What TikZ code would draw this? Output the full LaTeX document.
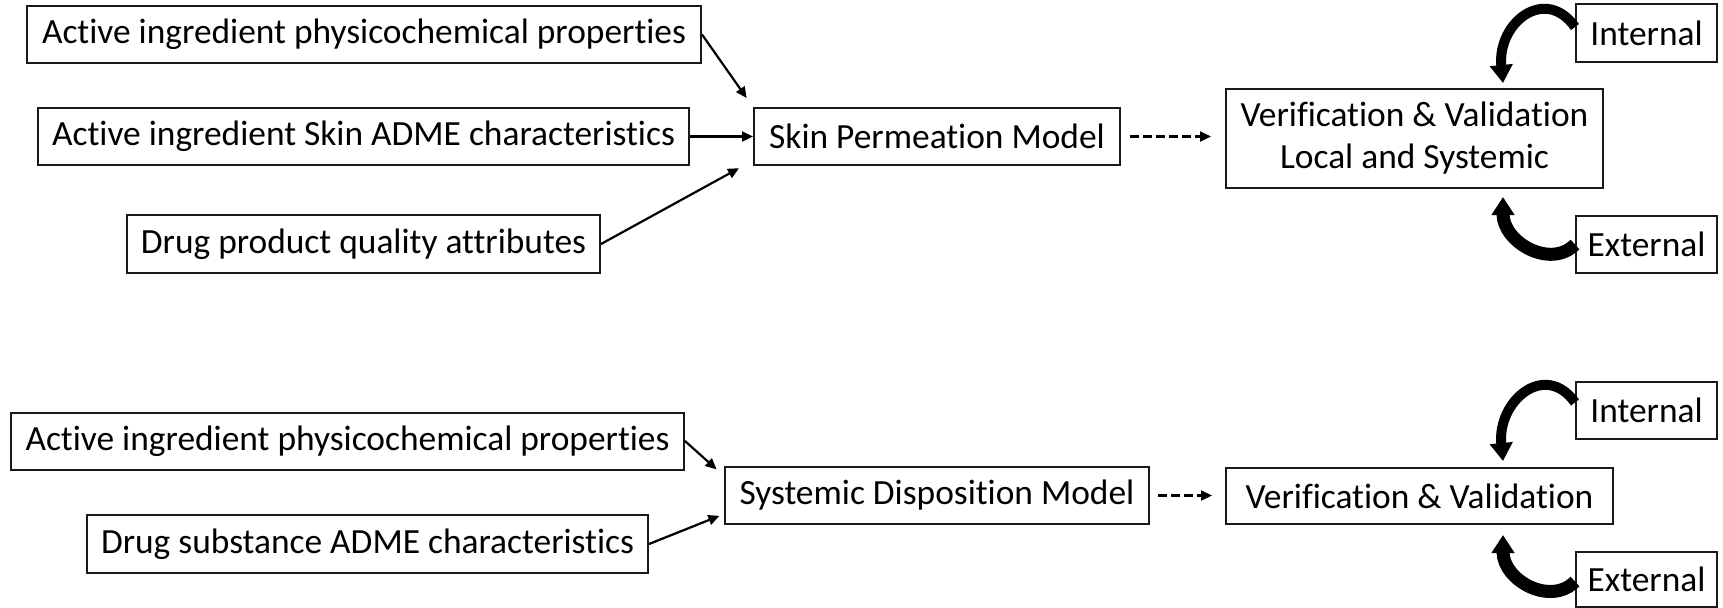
\documentclass[tikz,border=0pt]{standalone}
\usepackage{fontspec}
\setmainfont[Ligatures=NoCommon]{Carlito}
\usetikzlibrary{arrows.meta, positioning, calc}
\definecolor{cline}{HTML}{1A1A1A}
\tikzset{
  every picture/.style={font=\fontsize{17.7}{21}\selectfont, line width=1pt},
  box/.style={draw=cline, line width=1pt, align=center, inner sep=0pt, minimum height=28.5pt},
  arrow/.style={-{Triangle[length=5.5pt, width=5pt]}, draw=black, line width=1.1pt},
  dasharrow/.style={arrow, dash pattern=on 4.5pt off 2pt},
  curvearrow/.style={-{Triangle[length=9pt, width=11pt]}, draw=black, line width=#1},
  curvearrow/.default=5pt,
}
\begin{document}
\begin{tikzpicture}[x=0.5pt, y=-0.5pt]
  \useasboundingbox (0,0) rectangle (1723,607);
  % skin permeation row
  \node[box, minimum width=337pt] (a1) at (364,34.5) {Active ingredient physicochemical properties};
  \node[box, minimum width=325.5pt] (a2) at (363.5,136.5) {Active ingredient Skin ADME characteristics};
  \node[box, minimum width=236.5pt, minimum height=29pt] (a3) at (363.5,244) {Drug product quality attributes};
  \node[box, minimum width=183pt] (spm) at (937,136.5) {Skin Permeation Model};
  \node[box, minimum width=188.5pt, minimum height=49.5pt] (vv1) at (1414.5,138.5) {Verification \& Validation\\Local and Systemic};
  \node[box, minimum width=70.5pt, minimum height=29pt] (int1) at (1646.5,33) {Internal};
  \node[box, minimum width=70.5pt] (ext1) at (1646.5,244.5) {External};
  \draw[arrow, shorten >=5.5pt] (a1.east) -- (spm.north west);
  \draw[arrow] (a2) -- (spm);
  \draw[arrow, shorten >=8pt] (a3.east) -- ([yshift=2.75pt]spm.south west);
  \draw[dasharrow, shorten <=4.5pt, shorten >=7pt] (spm.east) -- (spm.east -| vv1.west);
  \coordinate (tin1) at (1503,83);
  \coordinate (tex1) at (1503,197);
  \draw[curvearrow] ([yshift=3pt]int1.west) .. controls +(-30,-42) and +(-6,-60) .. (tin1);
  \draw[curvearrow=6.5pt] (ext1.west) .. controls +(-25,25) and +(0,45) .. (tex1);
  % systemic disposition row
  \node[box, minimum width=336.5pt] (b1) at (347.5,441) {Active ingredient physicochemical properties};
  \node[box, minimum width=280.5pt, minimum height=29pt] (b2) at (367.5,544) {Drug substance ADME characteristics};
  \node[box, minimum width=212pt] (sdm) at (937,495.5) {Systemic Disposition Model};
  \node[box, minimum width=193.5pt, minimum height=28pt] (vv2) at (1419.5,496) {Verification \& Validation};
  \node[box, minimum width=70.5pt] (int2) at (1646.5,410.5) {Internal};
  \node[box, minimum width=70.5pt, minimum height=27.5pt] (ext2) at (1646.5,579.5) {External};
  \draw[arrow, shorten >=5pt] (b1.east) -- ([yshift=-5pt]sdm.north west);
  \draw[arrow, shorten >=2.5pt] (b2.east) -- ([yshift=5.5pt]sdm.south west);
  \draw[dasharrow, shorten <=4pt, shorten >=6.5pt] (sdm.east) -- (sdm.east -| vv2.west);
  \coordinate (tin2) at (1503,461);
  \coordinate (tex2) at (1503,535);
  \draw[curvearrow] ([yshift=4pt]int2.west) .. controls +(-30,-42) and +(-6,-60) .. (tin2);
  \draw[curvearrow=6.5pt] ([yshift=-1pt]ext2.west) .. controls +(-25,25) and +(0,45) .. (tex2);
\end{tikzpicture}
\end{document}
